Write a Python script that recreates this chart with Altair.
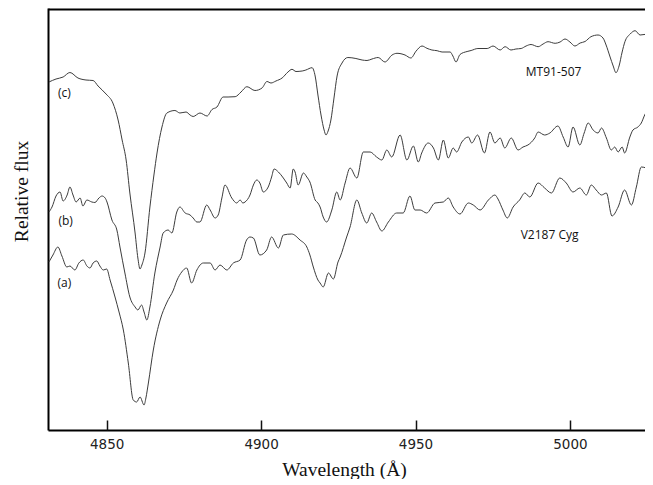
import altair as alt
import pandas as pd

# ---- data (wavelength in Angstrom, relative flux in arbitrary units) ----
wl_c = [4831.3,4833.6,4835.9,4838.1,4840.7,4843.3,4845.6,4847.2,4849.8,4852.0,
        4853.7,4855.0,4856.3,4857.5,4859.2,4860.1,4860.8,4861.4,4862.4,4864.0,
        4865.3,4866.3,4867.9,4869.5,4872.1,4873.7,4875.7,4877.0,4878.0,4880.2,
        4882.5,4884.1,4885.7,4887.7,4889.3,4891.6,4893.5,4895.4,4898.0,4900.3,
        4901.9,4903.2,4904.8,4906.8,4908.7,4910.0,4911.3,4913.3,4914.5,4916.5,
        4917.5,4918.4,4919.4,4920.4,4921.0,4921.7,4922.6,4923.6,4924.6,4926.2,
        4928.1,4930.7,4932.7,4934.3,4935.9,4937.9,4940.1,4942.4,4944.0,4946.6,
        4948.5,4950.2,4952.1,4953.7,4955.3,4957.0,4958.6,4961.2,4962.1,4963.1,
        4964.4,4966.7,4968.0,4970.2,4973.2,4975.1,4977.4,4979.0,4980.9,4982.5,
        4984.2,4985.8,4987.4,4989.7,4991.3,4992.9,4995.2,4996.8,4998.4,5000.0,
        5001.6,5003.3,5004.9,5006.8,5009.1,5010.7,5011.7,5013.0,5014.0,5014.9,
        5015.9,5016.9,5017.8,5019.5,5021.1,5022.7,5024.6,5026.9]
flux_c = [348,351,353,357.5,352,350,349.5,344,336,327,
          310,290,270,237,197,172,161,165,177,223,
          255,277,303,317,319.5,317,318,315,313.5,317,
          314,320.5,323,333,333,333.3,338,343.3,339.5,342,
          348.5,347,349,352,358,360.7,358.5,359,360,362.3,
          354,335,315,300,295,299,310,332,354,367,
          372.5,371.5,370,369.5,371,372.5,368,375,376.7,375,
          372,379,384,381.7,380,379.3,378,378,374,368,
          375.5,378.5,379.5,381.5,381.5,384,380,383.3,380,381,
          381.5,384,385.5,383.3,386,388.3,386.7,388,391,388,
          384,387,388.5,393.3,395,392,385,373,364,357.3,
          364,378,388.3,396,399.3,395,395.7,395.7]

wl_b = [4831.3,4832.3,4833.6,4834.9,4835.9,4837.2,4838.1,4839.1,4840.1,4841.4,
        4842.3,4843.6,4845.2,4846.2,4847.5,4848.5,4849.5,4850.1,4851.7,4853.3,
        4854.3,4855.9,4857.5,4859.2,4860.1,4861.3,4862.1,4863.0,4864.0,4865.6,
        4867.3,4868.3,4869.9,4871.1,4872.7,4873.7,4875.4,4877.0,4878.0,4879.2,
        4880.2,4882.4,4883.5,4885.1,4886.1,4887.3,4888.3,4890.5,4892.1,4893.2,
        4894.1,4894.8,4896.4,4897.5,4898.6,4899.6,4900.7,4902.3,4903.4,4904.2,
        4905.6,4907.2,4908.3,4909.4,4910.4,4911.0,4912.0,4913.7,4914.8,4915.8,
        4917.5,4918.4,4919.1,4920.1,4921.2,4922.9,4924.5,4925.6,4927.2,4928.8,
        4931.0,4933.1,4935.3,4937.4,4939.1,4940.7,4942.3,4945.0,4947.2,4949.3,
        4950.9,4952.0,4954.1,4955.8,4957.4,4959.0,4960.6,4962.2,4963.3,4965.0,
        4967.1,4968.2,4970.1,4972.3,4974.1,4975.7,4977.4,4978.9,4981.0,4983.2,
        4984.8,4986.4,4988.6,4989.7,4991.8,4993.5,4996.1,4997.8,4999.4,5001.0,
        5003.2,5004.6,5005.9,5007.5,5009.1,5010.2,5011.8,5013.4,5014.5,5015.6,
        5016.9,5017.7,5019.4,5020.4,5022.0,5023.1,5024.2,5025.8,5026.9]
flux_b = [218,223,234,238,229,235,243,235,228,232,
          224,230,228,227.5,232,234,232,228,210,200,
          183,157,133,123,120,125,118,110,123,157,
          183,197,200,197,218,223,217,215,212,208,
          208,225,220,212,215,232,245,232,227,230,
          227,228,235,245,250,247,238,243,253,261,
          258,252,247,242,261,258,245,257,253,248,
          230,227,223,213,208,220,238,230,247,262,
          252,278,278,273,270,280,273,295,270,284,
          268,277,287,282,270,290,272,282,278,288,
          293,287,295,277,298,287,292,282,292,280,
          283,285,292,298,295,297,304,293,283,303,
          285,297,307,300,297,302,292,280,283,278,
          283,277,293,300,303,307,315,323,325]

wl_a = [4831.3,4832.6,4834.2,4835.5,4837.1,4838.1,4839.7,4841.0,4842.4,4843.6,
        4844.6,4845.6,4846.8,4847.8,4848.9,4850.0,4851.1,4852.7,4854.0,4855.4,
        4857.0,4858.6,4859.7,4860.8,4862.1,4862.7,4863.5,4865.1,4867.3,4869.4,
        4871.6,4872.8,4874.3,4875.9,4877.5,4879.2,4881.3,4883.5,4885.1,4886.7,
        4888.9,4891.0,4893.2,4895.3,4896.4,4897.5,4899.6,4901.8,4903.4,4905.6,
        4907.2,4909.9,4912.6,4914.8,4915.8,4916.9,4918.4,4919.1,4920.1,4921.8,
        4923.4,4924.9,4925.6,4927.7,4928.8,4931.0,4932.6,4934.2,4935.8,4937.4,
        4939.1,4941.2,4943.9,4946.0,4948.2,4949.8,4951.5,4953.6,4956.3,4959.0,
        4960.6,4962.2,4964.4,4967.1,4968.7,4970.9,4973.6,4975.7,4976.7,4978.3,
        4979.7,4981.6,4983.7,4985.4,4987.0,4989.7,4991.8,4994.0,4996.7,4998.8,
        5001.0,5003.2,5005.3,5006.9,5008.5,5010.2,5011.8,5013.6,5015.6,5017.7,
        5019.9,5021.5,5023.1,5024.7,5026.9]
flux_a = [168,175,183,174,163,164,160,167,170,164,
          162,167,169,164,160,161,150,133,118,100,
          67,30,28,33,25,32,47,80,110,127,
          140,150,158,162,147,160,167,167,160,165,
          160,167,170,190,193,192,175,180,193,182,
          195,196,190,183,175,163,150,147,143,157,
          151,168,173,193,203,230,217,207,217,208,
          199,208,217,217,234,220,220,217,227,228,
          232,223,216,227,225,220,230,235,231,220,
          212,223,230,237,233,247,242,237,252,247,
          238,242,235,245,240,235,237,214,223,240,
          225,243,263,262,258]

x_ticks = [4850, 4900, 4950, 5000]
frame_lines = [0, 421]          # bottom axis line and top frame line (flux units)

label_text = ["(c)", "(b)", "(a)", "MT91-507", "V2187 Cyg"]
label_wl = [4836.3, 4836.7, 4836.3, 4994.7, 4993.4]
label_flux = [337, 209, 147, 358, 195]

# ---- build tables ----
rows = []
for name, wl, fl in (("c", wl_c, flux_c), ("b", wl_b, flux_b), ("a", wl_a, flux_a)):
    for w, f in zip(wl, fl):
        rows.append({"series": name, "wl": w, "flux": f})
spec = pd.DataFrame(rows)
labels = pd.DataFrame({"text": label_text, "wl": label_wl, "flux": label_flux})

W, H = 597, 422
xscale = alt.Scale(domain=[4831, 5024.3], nice=False, zero=False)
yscale = alt.Scale(domain=[0, 422], nice=False, zero=False)

# x axis lifted 10 px into the plot so its ticks point inward; the bottom line is a y grid line
xaxis = alt.Axis(values=x_ticks, format="d", domain=False, grid=False,
                 ticks=True, tickSize=10, tickWidth=1.5, tickColor="#111",
                 offset=-10,
                 labelFont="DejaVu Sans", labelFontSize=13.5, labelColor="#222",
                 labelPadding=7,
                 title="Wavelength (Å)", titleFont="Liberation Serif",
                 titleFontSize=19.5, titleFontWeight="normal", titleColor="#111",
                 titlePadding=0, titleBaseline="alphabetic", titleY=55, titleX=296)
yaxis = alt.Axis(values=frame_lines, labels=False, ticks=False,
                 grid=True, gridColor="#000", gridWidth=2, gridOpacity=1,
                 domainColor="#000", domainWidth=2,
                 title="Relative flux", titleFont="Liberation Serif",
                 titleFontSize=19.5, titleFontWeight="normal", titleColor="#111",
                 titleAngle=270, titleBaseline="middle",
                 titleX=-27, titleY=183)

X = alt.X("wl:Q", scale=xscale, axis=xaxis)
Y = alt.Y("flux:Q", scale=yscale, axis=yaxis)

lines = alt.Chart(spec).mark_line(
    color="#3c3c3c", strokeWidth=1, interpolate="monotone"
).encode(x=X, y=Y, detail="series:N")

texts = alt.Chart(labels).mark_text(
    font="Open Sans", fontSize=12, color="#111", align="center", baseline="middle"
).encode(x=X, y=Y, text="text:N")

chart = alt.layer(lines, texts).properties(
    width=W, height=H,
    autosize=alt.AutoSizeParams(type="none"),
    padding={"left": 40, "top": 0, "right": 0, "bottom": 49},
).configure_view(stroke=None)

chart.save("out.html", embed_options={"renderer": "svg", "actions": False})
